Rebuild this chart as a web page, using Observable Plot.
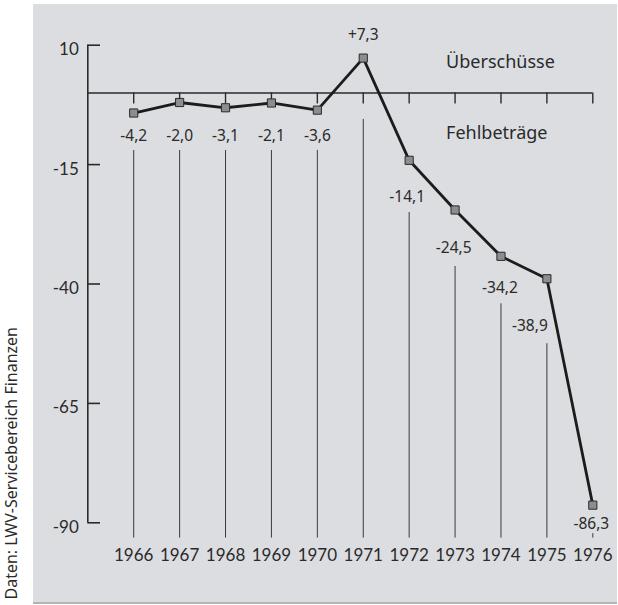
<!DOCTYPE html>
<html>
<head>
<meta charset="utf-8">
<script src="https://cdn.jsdelivr.net/npm/d3@7"></script>
<script src="https://cdn.jsdelivr.net/npm/@observablehq/plot@0.6"></script>
<style>
  body { margin: 0; background: #ffffff; }
  #wrap { position: relative; width: 618px; height: 605px; overflow: hidden; font-family: "Noto Sans", "Open Sans", sans-serif; color: #2a2a2a; }
  #panel { position: absolute; left: 33px; top: 4px; width: 584px; height: 598px; background: #dcdde0; border-bottom: 2px solid #b2b3b6; }
  #caption { position: absolute; left: 1px; bottom: 5px; writing-mode: vertical-rl; transform: rotate(180deg); font-size: 16px; line-height: 21px; white-space: nowrap; color: #2a2a2a; }
  #chart { position: absolute; left: 0; top: 0; }
</style>
</head>
<body>
<div id="wrap">
  <div id="panel"></div>
  <div id="caption"></div>
  <div id="chart"></div>
</div>
<script>
// ---- data ----
const years  = [1966, 1967, 1968, 1969, 1970, 1971, 1972, 1973, 1974, 1975, 1976];
const values = [-4.2, -2.0, -3.1, -2.1, -3.6, 7.3, -14.1, -24.5, -34.2, -38.9, -86.3];
const valueLabels = ["-4,2", "-2,0", "-3,1", "-2,1", "-3,6", "+7,3", "-14,1", "-24,5", "-34,2", "-38,9", "-86,3"];
const yTicks = [10, -15, -40, -65, -90];
const surplusLabel = "Überschüsse";
const deficitLabel = "Fehlbeträge";
const captionText = "Daten: LWV-Servicebereich Finanzen";

// ---- layout (pixel offsets relative to each point) ----
const labelDy = [23.5, 34, 28.7, 33.5, 26.3, -23.3, 36.9, 37.8, 31.9, 47.4, 19.3];
const labelDx = [0, 0, 0, 0, 0, 0, -2, -1.4, -1, -17, -1.5];
const dropInset = [37.5, 48, 42.7, 47.5, 40.3, 61.4, 52.2, 56.5, 47.5, 65, 28.6];

const data = years.map((year, i) => ({year, value: values[i], label: valueLabels[i], i}));
const x0 = years[0] - 1;        // axis origin column
const yBottom = -93.2;          // foot of the drop lines

document.getElementById("caption").textContent = captionText;

const ink = "#2a2a2a";
const numFont = "Lato, 'Noto Sans', sans-serif";
const marks = [];

// drop lines from each label down to the bottom
data.forEach(d => {
  marks.push(Plot.ruleX([d], {x: "year", y1: "value", y2: yBottom, insetTop: dropInset[d.i], stroke: "#3a3a3a", strokeWidth: 1}));
});

// y axis
marks.push(Plot.ruleX([x0], {y1: -90, y2: 10, stroke: ink, strokeWidth: 1.6}));
marks.push(Plot.ruleY(yTicks, {x1: x0, x2: years[0], insetRight: 33.2, stroke: ink, strokeWidth: 1.6}));
marks.push(Plot.text(yTicks, {x: x0, y: d => d, text: d => String(d), textAnchor: "end", dx: -9, dy: 4.5, fontSize: 17, fontFamily: numFont, fill: ink, ariaLabel: "ytick-labels"}));

// zero line with year ticks
marks.push(Plot.ruleY([0], {x1: x0, x2: years[years.length - 1], stroke: ink, strokeWidth: 1.6}));
marks.push(Plot.ruleX(years, {x: d => d, y1: 0, y2: -5, insetBottom: 12.9, stroke: ink, strokeWidth: 1.4}));

// series
marks.push(Plot.line(data, {x: "year", y: "value", stroke: "#1c1c1c", strokeWidth: 2.8, strokeLinejoin: "round"}));
marks.push(Plot.dot(data, {x: "year", y: "value", symbol: "square", r: 4.6, fill: "#8d8d8f", stroke: "#2a2a2a", strokeWidth: 1}));

// value labels
data.forEach(d => {
  marks.push(Plot.text([d], {x: "year", y: "value", text: "label", dy: labelDy[d.i], dx: labelDx[d.i], fontSize: 15.5, fill: ink}));
});

// year labels
marks.push(Plot.text(years, {x: d => d, y: -90, text: d => String(d), dy: 33, fontSize: 17, fontFamily: numFont, fill: ink, ariaLabel: "year-labels"}));

// annotations
marks.push(Plot.text([surplusLabel], {x: 1973, y: 0, text: d => d, textAnchor: "start", dx: -9, dy: -31, fontSize: 18, fill: ink}));
marks.push(Plot.text([deficitLabel], {x: 1973, y: 0, text: d => d, textAnchor: "start", dx: -9, dy: 40, fontSize: 18, fill: ink}));

const chart = Plot.plot({
  width: 618,
  height: 605,
  marginLeft: 87.3,
  marginRight: 25.7,
  marginTop: 44.7,
  marginBottom: 82.7,
  style: {background: "transparent", fontFamily: "'Noto Sans', 'Open Sans', sans-serif", fontSize: "15px", color: ink, overflow: "visible"},
  x: {type: "linear", domain: [x0, years[years.length - 1]], axis: null},
  y: {type: "linear", domain: [-90, 10], axis: null},
  marks
});

d3.select(chart).selectAll('g[aria-label="year-labels"], g[aria-label="ytick-labels"]')
  .style("font-variant-numeric", "oldstyle-nums")
  .style("font-feature-settings", "'onum' 1");

document.getElementById("chart").appendChild(chart);
</script>
</body>
</html>
